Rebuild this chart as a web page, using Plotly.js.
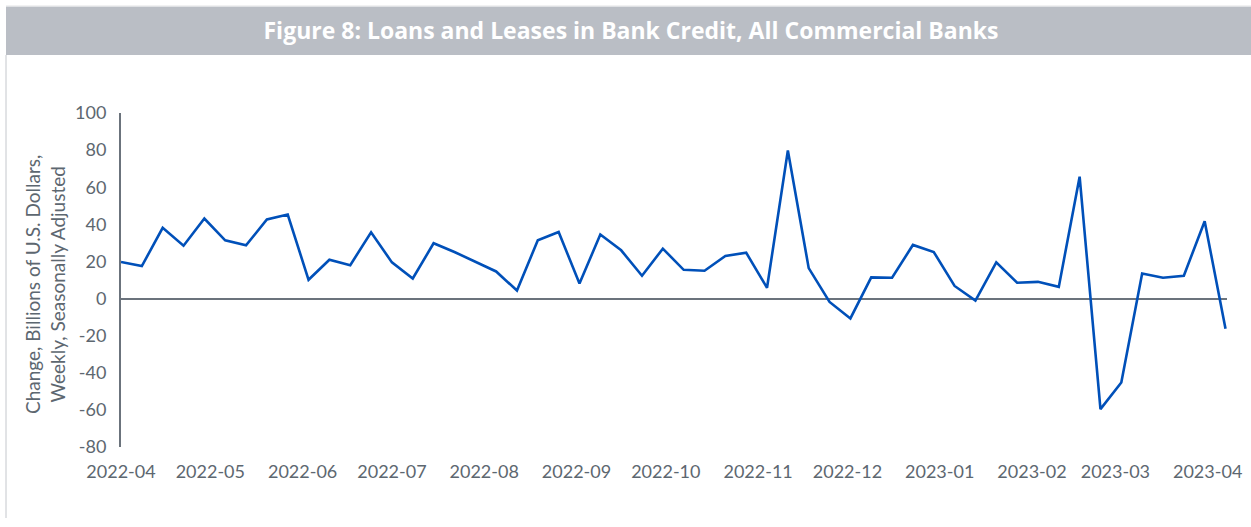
<!DOCTYPE html>
<html>
<head>
<meta charset="utf-8">
<script src="https://cdn.plot.ly/plotly-3.0.1.min.js"></script>
<style>
  html, body { margin: 0; padding: 0; background: #ffffff; }
  #chart { width: 1251px; height: 527px; }
</style>
</head>
<body>
<div id="chart"></div>
<script>
// Weekly observation dates
const weekDates = [
  "2022-04-01","2022-04-08","2022-04-15","2022-04-22","2022-04-29",
  "2022-05-06","2022-05-13","2022-05-20","2022-05-27",
  "2022-06-03","2022-06-10","2022-06-17","2022-06-24",
  "2022-07-01","2022-07-08","2022-07-15","2022-07-22","2022-07-29",
  "2022-08-05","2022-08-12","2022-08-19","2022-08-26",
  "2022-09-02","2022-09-09","2022-09-16","2022-09-23","2022-09-30",
  "2022-10-07","2022-10-14","2022-10-21","2022-10-28",
  "2022-11-04","2022-11-11","2022-11-18","2022-11-25",
  "2022-12-02","2022-12-09","2022-12-16","2022-12-23","2022-12-30",
  "2023-01-06","2023-01-13","2023-01-20","2023-01-27",
  "2023-02-03","2023-02-10","2023-02-17","2023-02-24",
  "2023-03-03","2023-03-10","2023-03-17","2023-03-24","2023-03-31",
  "2023-04-07"
];

// Change in loans and leases, billions of U.S. dollars (weekly, SA)
const weeklyChange = [
  19.7, 17.5, 38.1, 28.5, 43.1,
  31.4, 28.7, 42.6, 45.3,
  10.1, 20.9, 18.0, 35.7,
  19.5, 10.8, 29.8, 25.1, 19.8,
  14.6, 4.3, 31.4, 35.9,
  8.1, 34.5, 26.0, 12.3, 26.9,
  15.5, 15.0, 22.9, 24.7,
  5.8, 79.8, 16.4, -1.8,
  -10.7, 11.4, 11.2, 28.9, 25.1,
  6.8, -1.1, 19.5, 8.5,
  9.0, 6.3, 65.7, -59.6,
  -45.2, 13.5, 11.2, 12.3, 41.7,
  -16.3
];

const yTickValues = [-80, -60, -40, -20, 0, 20, 40, 60, 80, 100];

const chartTitle = "Figure 8: Loans and Leases in Bank Credit, All Commercial Banks";
const yAxisTitle = "Change, Billions of U.S. Dollars,<br>Weekly, Seasonally Adjusted";

const axisGrey = "#6b737c";
const textGrey = "#5d6770";
const fontFamily = "Lato, 'Open Sans', 'Noto Sans', sans-serif";
const titleFamily = "'Open Sans', 'Noto Sans', sans-serif";

const trace = {
  x: weekDates,
  y: weeklyChange,
  type: "scatter",
  mode: "lines",
  line: { color: "#0050b9", width: 2.6 },
  hoverinfo: "x+y",
  showlegend: false
};

const layout = {
  width: 1251,
  height: 527,
  paper_bgcolor: "#ffffff",
  plot_bgcolor: "#ffffff",
  margin: { l: 121, r: 24, t: 113, b: 80 },
  font: { family: fontFamily, color: textGrey, size: 18 },
  title: {
    text: "<b>" + chartTitle + "</b>",
    font: { family: titleFamily, size: 23, color: "#ffffff" },
    x: 631 / 1251,
    xref: "container",
    xanchor: "center",
    y: 1 - 31 / 527,
    yref: "container",
    yanchor: "middle"
  },
  xaxis: {
    type: "date",
    range: ["2022-04-01", "2023-04-07 12:00"],
    dtick: "M1",
    tick0: "2022-04-01",
    tickformat: "%Y-%m",
    showgrid: false,
    zeroline: false,
    showline: false,
    ticks: "",
    ticklabelstandoff: 12,
    tickfont: { family: fontFamily, size: 18, color: textGrey }
  },
  yaxis: {
    range: [-80, 100],
    tickvals: yTickValues,
    ticktext: yTickValues.map(String),
    showgrid: false,
    zeroline: true,
    zerolinecolor: axisGrey,
    zerolinewidth: 2,
    showline: true,
    linecolor: axisGrey,
    linewidth: 2,
    ticks: "",
    ticklabelstandoff: 9,
    tickfont: { family: fontFamily, size: 18, color: textGrey }
  },
  shapes: [
    {
      type: "rect", xref: "paper", yref: "paper",
      x0: (6 - 121) / 1106, x1: (1251 - 121) / 1106,
      y0: (447 - 55) / 334, y1: (447 - 6.5) / 334,
      fillcolor: "#babec5", line: { width: 0 }, layer: "below"
    },
    {
      type: "line", xref: "paper", yref: "paper",
      x0: (6 - 121) / 1106, x1: (6 - 121) / 1106,
      y0: (447 - 518) / 334, y1: (447 - 55) / 334,
      line: { color: "#c4c7cc", width: 1 }
    },
    {
      type: "line", xref: "paper", yref: "paper",
      x0: (6 - 121) / 1106, x1: (1251 - 121) / 1106,
      y0: (447 - 6) / 334, y1: (447 - 6) / 334,
      line: { color: "#e2e3e5", width: 1 }
    }
  ],
  annotations: [
    {
      text: yAxisTitle,
      xref: "paper", yref: "paper",
      x: (45 - 121) / 1106, y: (447 - 285) / 334,
      xanchor: "center", yanchor: "middle",
      textangle: -90,
      showarrow: false,
      align: "center",
      font: { family: fontFamily, size: 19, color: textGrey }
    }
  ]
};

Plotly.newPlot("chart", [trace], layout, { displayModeBar: false, staticPlot: false });
</script>
</body>
</html>
